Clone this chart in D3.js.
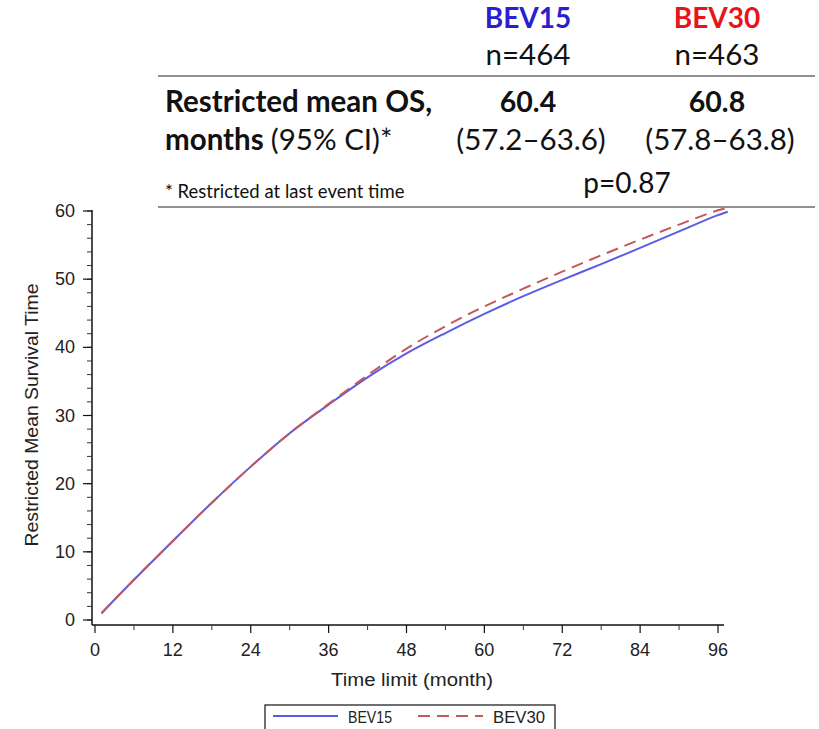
<!DOCTYPE html>
<html>
<head>
<meta charset="utf-8">
<script src="https://cdn.jsdelivr.net/npm/d3@7"></script>
<style>
  body { margin: 0; background: #fff; }
  .header_text { font-family: Lato, "Open Sans", sans-serif; fill: #111; }
  .axis_text { font-family: "Liberation Sans", Arial, sans-serif; fill: #222; }
</style>
</head>
<body>
<svg id="view_svg_container" width="819" height="729"></svg>
<script>

// DATA
// ========================================================================
var groups = ["BEV15", "BEV30"];
var group_n = ["n=464", "n=463"];
var group_means = ["60.4", "60.8"];
var group_ci = ["(57.2\u201363.6)", "(57.8\u201363.8)"];
var p_value = "p=0.87";

var months = [1, 6, 12, 18, 24, 30, 36, 42, 48, 54, 60, 66, 72, 78, 84, 90, 96, 97.5];
var bev15_rmst = [1.0, 5.9, 11.6, 17.2, 22.5, 27.4, 31.6, 35.6, 39.1, 42.1, 44.9, 47.5, 49.9, 52.2, 54.6, 57.0, 59.4, 59.9];
var bev30_rmst = [1.0, 5.9, 11.6, 17.2, 22.5, 27.4, 31.7, 35.9, 39.8, 43.1, 46.0, 48.6, 51.1, 53.5, 55.8, 58.0, 60.1, 60.5];

var x_ticks = [0, 12, 24, 36, 48, 60, 72, 84, 96];
var y_ticks = [0, 10, 20, 30, 40, 50, 60];
// ========================================================================

var BLUE = "#5b5be8";
var RED = "#c4585a";
var TITLE_BLUE = "#2a1fd0";
var TITLE_RED = "#e8141a";

var svg = d3.select("#view_svg_container");

var x = d3.scaleLinear().domain([0, 96]).range([95, 718]);
var y = d3.scaleLinear().domain([0, 60]).range([620, 211]);


function drawHeader() {
  var cols = [528, 717];

  // Column titles
  svg.selectAll(".col_title").data(groups).enter()
    .append("text").attr("class", "header_text col_title")
      .attr("x", function(d, i) { return cols[i]; })
      .attr("y", 28)
      .attr("text-anchor", "middle")
      .style("font-size", "28px").style("font-weight", "bold")
      .style("fill", function(d, i) { return i == 0 ? TITLE_BLUE : TITLE_RED; })
      .text(function(d) { return d; });

  svg.selectAll(".col_n").data(group_n).enter()
    .append("text").attr("class", "header_text col_n")
      .attr("x", function(d, i) { return cols[i]; })
      .attr("y", 65)
      .attr("text-anchor", "middle")
      .style("font-size", "29.5px")
      .text(function(d) { return d; });

  svg.selectAll(".col_mean").data(group_means).enter()
    .append("text").attr("class", "header_text col_mean")
      .attr("x", function(d, i) { return cols[i]; })
      .attr("y", 112)
      .attr("text-anchor", "middle")
      .style("font-size", "28.5px").style("font-weight", "bold")
      .text(function(d) { return d; });

  svg.selectAll(".col_ci").data(group_ci).enter()
    .append("text").attr("class", "header_text col_ci")
      .attr("x", function(d, i) { return cols[i] + 3; })
      .attr("y", 150)
      .attr("text-anchor", "middle")
      .style("font-size", "29.5px")
      .text(function(d) { return d; });

  // Row labels
  svg.append("text").attr("class", "header_text")
      .attr("x", 165).attr("y", 112)
      .style("font-size", "29.5px").style("font-weight", "bold")
      .text("Restricted mean OS,");

  var row2 = svg.append("text").attr("class", "header_text")
      .attr("x", 165).attr("y", 150)
      .style("font-size", "29.5px");
  row2.append("tspan").style("font-weight", "bold").text("months ");
  row2.append("tspan").text("(95% CI)*");

  svg.append("text").attr("class", "header_text")
      .attr("x", 165).attr("y", 198)
      .style("font-size", "18.5px")
      .text("* Restricted at last event time");

  svg.append("text").attr("class", "header_text")
      .attr("x", 627).attr("y", 193)
      .attr("text-anchor", "middle")
      .style("font-size", "28px")
      .text(p_value);

  // Rules
  [76, 207].forEach(function(ly) {
    svg.append("line")
        .attr("x1", 158).attr("x2", 815)
        .attr("y1", ly).attr("y2", ly)
        .style("stroke", "#6d6d6d").style("stroke-width", 1.5);
  });
}


function drawAxes() {
  var axis_x = 625;
  var axis_y = 92;

  // Y axis
  var y_axis = svg.append("g").attr("transform", "translate(" + axis_y + ",0)");
  y_axis.append("line").attr("x1", 0).attr("x2", 0)
      .attr("y1", y(60) - 1).attr("y2", axis_x)
      .style("stroke", "#111").style("stroke-width", 1.5);
  y_axis.selectAll(".ymin").data(d3.range(0, 61, 2)).enter()
    .append("line")
      .attr("x1", -5).attr("x2", 0)
      .attr("y1", function(d) { return y(d); }).attr("y2", function(d) { return y(d); })
      .style("stroke", "#333").style("stroke-width", 1);
  y_axis.selectAll(".ymaj").data(y_ticks).enter()
    .append("line")
      .attr("x1", -9).attr("x2", 0)
      .attr("y1", function(d) { return y(d); }).attr("y2", function(d) { return y(d); })
      .style("stroke", "#111").style("stroke-width", 1.2);
  y_axis.selectAll(".ylab").data(y_ticks).enter()
    .append("text").attr("class", "axis_text")
      .attr("x", -17).attr("y", function(d) { return y(d) + 6; })
      .attr("text-anchor", "end")
      .style("font-size", "18px")
      .text(function(d) { return d; });

  // X axis
  var x_axis = svg.append("g").attr("transform", "translate(0," + axis_x + ")");
  x_axis.append("line").attr("x1", axis_y).attr("x2", 724)
      .attr("y1", 0).attr("y2", 0)
      .style("stroke", "#111").style("stroke-width", 1.5);
  x_axis.selectAll(".xmin").data(d3.range(6, 96, 12)).enter()
    .append("line")
      .attr("x1", function(d) { return x(d); }).attr("x2", function(d) { return x(d); })
      .attr("y1", 0).attr("y2", 5)
      .style("stroke", "#333").style("stroke-width", 1);
  x_axis.selectAll(".xmaj").data(x_ticks).enter()
    .append("line")
      .attr("x1", function(d) { return x(d); }).attr("x2", function(d) { return x(d); })
      .attr("y1", 0).attr("y2", 8)
      .style("stroke", "#111").style("stroke-width", 1.2);
  x_axis.selectAll(".xlab").data(x_ticks).enter()
    .append("text").attr("class", "axis_text")
      .attr("x", function(d) { return x(d); }).attr("y", 31)
      .attr("text-anchor", "middle")
      .style("font-size", "18px")
      .text(function(d) { return d; });

  // Axis titles
  svg.append("text").attr("class", "axis_text")
      .attr("transform", "translate(38,415) rotate(-90)")
      .attr("text-anchor", "middle")
      .style("font-size", "18px")
      .attr("textLength", 263).attr("lengthAdjust", "spacingAndGlyphs")
      .text("Restricted Mean Survival Time");

  svg.append("text").attr("class", "axis_text")
      .attr("x", 412).attr("y", 686)
      .attr("text-anchor", "middle")
      .style("font-size", "18px")
      .attr("textLength", 162).attr("lengthAdjust", "spacingAndGlyphs")
      .text("Time limit (month)");
}


function drawCurves() {
  var line = d3.line()
      .x(function(d) { return x(d[0]); })
      .y(function(d) { return y(d[1]); })
      .curve(d3.curveMonotoneX);

  svg.append("path")
      .datum(d3.zip(months, bev15_rmst))
      .attr("d", line)
      .style("fill", "none").style("stroke", BLUE).style("stroke-width", 2);

  svg.append("path")
      .datum(d3.zip(months, bev30_rmst))
      .attr("d", line)
      .style("fill", "none").style("stroke", RED).style("stroke-width", 2)
      .style("stroke-dasharray", "12,7");
}


function drawLegend() {
  var legend = svg.append("g").attr("transform", "translate(265,705)");
  legend.append("rect")
      .attr("width", 290).attr("height", 32)
      .style("fill", "none").style("stroke", "#111").style("stroke-width", 1.2);

  var items = [{ x: 8, color: BLUE, dash: null, tx: 83, tw: 44 },
               { x: 153, color: RED, dash: "12,7", tx: 228, tw: 52 }];
  items.forEach(function(it, i) {
    legend.append("line")
        .attr("x1", it.x).attr("x2", it.x + 65)
        .attr("y1", 11).attr("y2", 11)
        .style("stroke", it.color).style("stroke-width", 2)
        .style("stroke-dasharray", it.dash);
    legend.append("text").attr("class", "axis_text")
        .attr("x", it.tx).attr("y", 18)
        .style("font-size", "17px")
        .attr("textLength", it.tw).attr("lengthAdjust", "spacingAndGlyphs")
        .text(groups[i]);
  });
}


drawHeader();
drawAxes();
drawCurves();
drawLegend();

</script>
</body>
</html>
